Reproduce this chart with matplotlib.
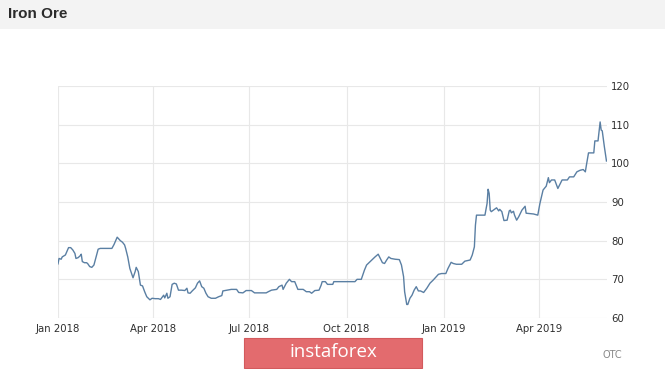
import numpy as np
import pandas as pd
import matplotlib
matplotlib.use('Agg')
import matplotlib.pyplot as plt
import matplotlib.dates as mdates
from matplotlib.patches import Rectangle

# iron ore price (days counted from 1 Jan 2018)
day_offsets = [0, 1, 3, 4, 7, 10, 12, 14, 16, 17, 19, 21, 22, 23, 25, 27, 28, 30, 32, 34,
               38, 40, 51, 53, 56, 57, 59, 61, 63, 64, 66, 68, 71, 73, 74, 76, 78, 80, 82, 84,
               87, 89, 92, 95, 97, 100, 101, 103, 104, 106, 108, 110, 112, 114, 117, 120, 122, 123, 125, 127,
               130, 132, 134, 136, 138, 140, 142, 145, 149, 152, 155, 156, 160, 164, 169, 171, 175, 178, 183, 186,
               194, 197, 199, 202, 207, 209, 212, 213, 216, 219, 221, 224, 227, 232, 235, 238, 240, 243, 247, 249,
               250, 253, 255, 260, 261, 281, 283, 287, 290, 292, 297, 300, 303, 305, 307, 309, 311, 313, 315, 319,
               323, 325, 327, 328, 330, 331, 333, 335, 337, 339, 341, 343, 346, 349, 352, 355, 358, 360, 363, 367,
               369, 372, 374, 377, 382, 385, 390, 392, 394, 395, 396, 404, 406, 407, 408, 409, 410, 413, 415, 417,
               418, 420, 422, 425, 427, 428, 429, 431, 432, 434, 436, 439, 442, 443, 450, 454, 456, 459, 462, 464,
               465, 467, 470, 473, 477, 482, 484, 488, 491, 494, 497, 499, 500, 502, 507, 508, 511, 513, 514, 515,
               517, 519]
price = [74.0, 75.4, 75.2, 75.8, 76.3, 78.2, 78.2, 77.6, 76.7, 75.4, 75.6, 76.1, 76.5, 74.6, 74.3, 74.3, 74.1, 73.3, 73.1, 73.7,
         77.8, 78.0, 78.0, 79.0, 80.9, 80.6, 80.0, 79.6, 78.9, 78.0, 75.8, 72.8, 70.4, 72.0, 73.1, 72.0, 68.5, 68.3, 66.8, 65.5,
         64.7, 65.1, 65.0, 65.0, 64.8, 65.9, 65.2, 66.4, 65.1, 65.5, 68.7, 69.0, 68.8, 67.2, 67.2, 67.1, 67.7, 66.5, 66.4, 67.0,
         67.8, 69.0, 69.6, 68.1, 67.7, 66.4, 65.5, 65.1, 65.1, 65.5, 65.8, 67.0, 67.2, 67.4, 67.4, 66.6, 66.5, 67.1, 67.1, 66.5,
         66.5, 66.5, 66.8, 67.2, 67.4, 68.1, 68.5, 67.4, 69.0, 70.0, 69.4, 69.4, 67.4, 67.4, 66.8, 66.8, 66.4, 67.1, 67.2, 68.5,
         69.4, 69.4, 68.7, 68.7, 69.4, 69.4, 70.0, 70.0, 72.4, 73.7, 75.0, 75.8, 76.5, 75.4, 74.3, 74.1, 75.0, 75.8, 75.4, 75.2,
         75.1, 73.7, 70.7, 66.8, 63.5, 63.5, 65.1, 65.9, 67.2, 68.1, 67.0, 67.0, 66.6, 67.7, 69.0, 69.8, 70.7, 71.3, 71.5, 71.5,
         72.8, 74.4, 74.1, 73.9, 73.9, 74.7, 75.0, 76.3, 78.4, 84.0, 86.6, 86.6, 89.6, 93.3, 92.2, 87.9, 87.5, 88.1, 88.5, 87.7,
         88.1, 87.5, 85.2, 85.3, 87.7, 87.9, 87.2, 87.6, 86.6, 85.3, 86.2, 87.9, 88.9, 87.1, 86.9, 86.6, 89.6, 93.1, 94.1, 96.3,
         95.0, 95.7, 95.7, 93.5, 95.7, 95.7, 96.5, 96.5, 97.8, 98.2, 98.4, 97.8, 99.5, 102.7, 102.7, 105.8, 105.8, 110.7, 108.6, 108.4,
         104.3, 100.6]

y_ticks = [60, 70, 80, 90, 100, 110, 120]
x_ticks = ['2018-01-01', '2018-04-01', '2018-07-01', '2018-10-01', '2019-01-01', '2019-04-01']

dates = pd.Timestamp('2018-01-01') + pd.to_timedelta(day_offsets, unit='D')

fig = plt.figure(figsize=(6.65, 3.69), dpi=100)
fig.patch.set_facecolor('white')

# grey title band
fig.patches.append(Rectangle((0, 1 - 29 / 369), 1, 29 / 369, transform=fig.transFigure,
                             facecolor='#f3f3f3', edgecolor='none', zorder=0))
fig.text(8 / 665, 1 - 14 / 369, 'Iron Ore', fontsize=11, fontweight='bold',
         family=['Liberation Sans Narrow', 'Liberation Sans'], color='#2b2b2b',
         va='center', ha='left')

ax = fig.add_axes([58 / 665, 1 - 318 / 369, (607 - 58) / 665, (318 - 86) / 369])
ax.plot(dates, price, color='#5a7fa3', lw=1.0)

ax.set_ylim(60, 120)
ax.set_yticks(y_ticks)
ax.yaxis.tick_right()
ax.set_xlim(pd.Timestamp('2018-01-01'), pd.Timestamp('2018-01-01') + pd.Timedelta(days=519.5))
ax.set_xticks(pd.to_datetime(x_ticks))
ax.xaxis.set_major_formatter(mdates.DateFormatter('%b %Y'))

for s in ax.spines.values():
    s.set_visible(False)
ax.grid(True, color='#e8e8e8', lw=0.8)
ax.set_axisbelow(True)
ax.tick_params(axis='both', length=0, labelsize=7.3, labelcolor='#2e2e2e')
ax.tick_params(axis='x', pad=4)
ax.tick_params(axis='y', pad=3)

# watermark
fig.patches.append(Rectangle((244 / 665, 1 - 368 / 369), 178 / 665, 30 / 369,
                             transform=fig.transFigure, facecolor='#e36b6e',
                             edgecolor='#d35a5d', lw=0.8, zorder=5))
fig.text(333 / 665, 1 - 352 / 369, 'instaforex', fontsize=13.5, family='Open Sans',
         color='white', ha='center', va='center', zorder=6)
fig.text(612 / 665, 1 - 355 / 369, 'OTC', fontsize=7, color='#888888',
         ha='center', va='center')

fig.savefig('out.png', dpi=100)
